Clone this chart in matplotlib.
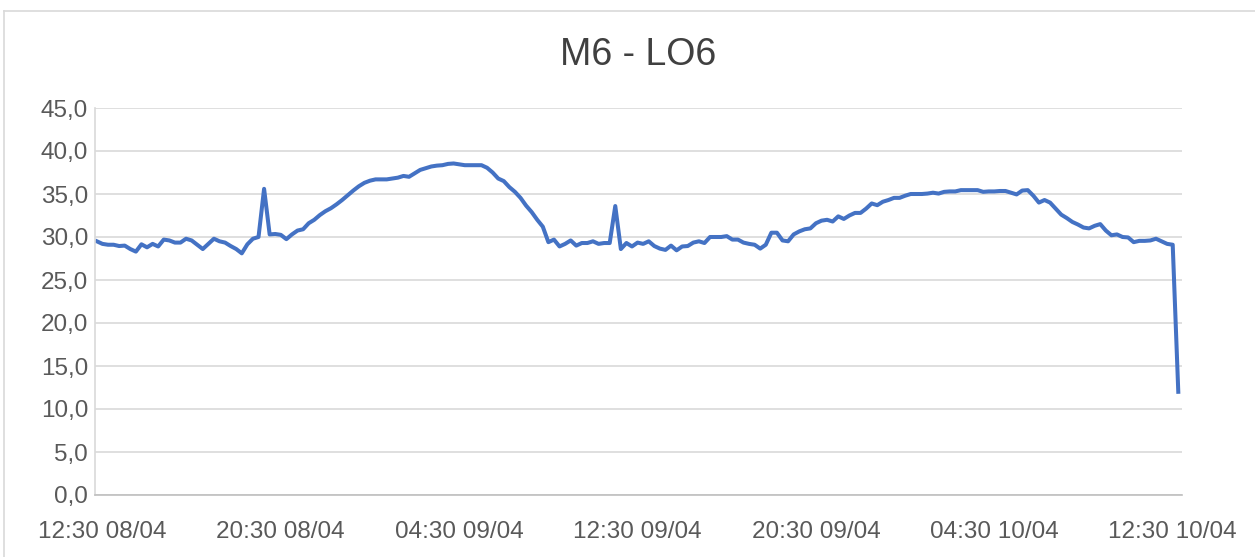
import matplotlib
matplotlib.use("Agg")
import matplotlib.pyplot as plt
import matplotlib.dates as mdates
from matplotlib.lines import Line2D
import pandas as pd

# readings every 15 minutes, from 12:15 08/04 to 12:45 10/04
start = "2023-04-08 12:15"
temps = [
    29.5, 29.2, 29.1, 29.1, 28.95, 29.0, 28.6, 28.3, 29.15, 28.8,
    29.2, 28.9, 29.7, 29.6, 29.35, 29.35, 29.8, 29.6, 29.1, 28.6,
    29.2, 29.8, 29.5, 29.35, 28.95, 28.6, 28.1, 29.15, 29.8, 30.0,
    35.6, 30.3, 30.35, 30.25, 29.75, 30.3, 30.75, 30.9, 31.6, 32.0,
    32.55, 33.0, 33.35, 33.8, 34.3, 34.85, 35.4, 35.9, 36.3, 36.55,
    36.7, 36.7, 36.7, 36.8, 36.9, 37.1, 37.0, 37.4, 37.8, 38.0,
    38.2, 38.3, 38.35, 38.5, 38.55, 38.45, 38.35, 38.35, 38.35, 38.35,
    38.05, 37.5, 36.8, 36.5, 35.8, 35.25, 34.55, 33.65, 32.9, 32.0,
    31.2, 29.4, 29.7, 28.9, 29.2, 29.6, 29.0, 29.3, 29.3, 29.5,
    29.2, 29.3, 29.3, 33.6, 28.6, 29.3, 28.9, 29.35, 29.2, 29.5,
    28.95, 28.65, 28.5, 29.0, 28.45, 28.9, 28.95, 29.35, 29.5, 29.3,
    30.0, 30.0, 30.0, 30.1, 29.7, 29.7, 29.35, 29.2, 29.1, 28.65,
    29.1, 30.5, 30.5, 29.6, 29.5, 30.3, 30.65, 30.9, 31.0, 31.6,
    31.9, 32.0, 31.8, 32.4, 32.1, 32.5, 32.8, 32.8, 33.3, 33.9,
    33.7, 34.1, 34.3, 34.55, 34.55, 34.8, 35.0, 35.0, 35.0, 35.05,
    35.15, 35.05, 35.25, 35.3, 35.3, 35.45, 35.45, 35.45, 35.45, 35.25,
    35.3, 35.3, 35.35, 35.35, 35.15, 34.95, 35.4, 35.45, 34.8, 34.0,
    34.3, 34.0, 33.3, 32.6, 32.2, 31.75, 31.45, 31.1, 31.0, 31.3,
    31.5, 30.75, 30.2, 30.3, 30.0, 29.95, 29.4, 29.55, 29.55, 29.6,
    29.8, 29.5, 29.2, 29.1, 12.0,
]
times = pd.date_range(start, periods=len(temps), freq="15min")

tick_times = pd.date_range("2023-04-08 12:30", "2023-04-10 12:30", freq="8h")
y_ticks = list(range(0, 50, 5))

plt.rcParams["font.family"] = ["Liberation Sans", "DejaVu Sans"]

fig = plt.figure(figsize=(12.55, 5.57), dpi=100)
ax = fig.add_axes([95 / 1255, 1 - 495 / 557, (1182 - 95) / 1255, (495 - 108) / 557])

ax.plot(times, temps, color="#4472C4", linewidth=2.9, solid_joinstyle="round")

ax.set_ylim(0, 45)
ax.set_yticks(y_ticks)
ax.set_yticklabels([f"{v:.1f}".replace(".", ",") for v in y_ticks])
ax.set_xlim(times[0] - pd.Timedelta(minutes=5), times[-1] + pd.Timedelta(minutes=10))
ax.set_xticks(tick_times)
ax.xaxis.set_major_formatter(mdates.DateFormatter("%H:%M %d/%m"))

ax.grid(axis="y", color="#D9D9D9", linewidth=1.2)
ax.set_axisbelow(True)
for side in ["top", "right"]:
    ax.spines[side].set_visible(False)
ax.spines["left"].set_color("#D9D9D9")
ax.spines["bottom"].set_color("#BFBFBF")
ax.spines["left"].set_linewidth(1.2)
ax.spines["bottom"].set_linewidth(1.2)
ax.tick_params(length=0, labelsize=17.5, labelcolor="#595959")
ax.tick_params(axis="x", pad=18.5)
ax.tick_params(axis="y", pad=5)

fig.text(638 / 1255, 1 - 55 / 557, "M6 - LO6", ha="center", va="center",
         fontsize=27, color="#404040")

# chart area border
fig.add_artist(Line2D([4 / 1255, 1], [1 - 11 / 557] * 2, color="#D9D9D9", linewidth=1.2))
fig.add_artist(Line2D([4 / 1255] * 2, [0, 1 - 11 / 557], color="#D9D9D9", linewidth=1.2))

fig.savefig("out.png", dpi=100)
